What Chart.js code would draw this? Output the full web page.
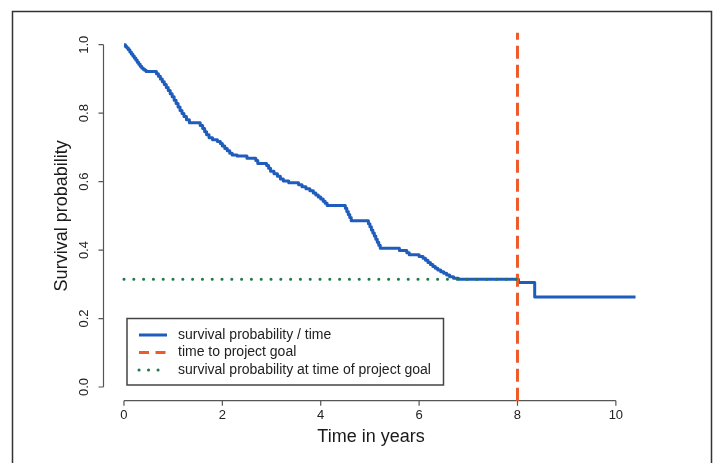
<!DOCTYPE html>
<html>
<head>
<meta charset="utf-8">
<script src="https://cdn.jsdelivr.net/npm/chart.js@4.4.1/dist/chart.umd.min.js"></script>
<style>
  html, body { margin: 0; background: #fff; }
  #wrap { width: 718px; height: 463px; }
</style>
</head>
<body>
<div id="wrap"><canvas id="survivalChart" width="718" height="463"></canvas></div>
<script>
// Kaplan-Meier style curve: event time -> survival after the drop
const kmTimes = [0, 0.03, 0.06, 0.09, 0.12, 0.15, 0.18, 0.21, 0.24, 0.27, 0.3, 0.33, 0.36, 0.39,
    0.42, 0.45, 0.66, 0.7, 0.74, 0.78, 0.82, 0.86, 0.9, 0.94, 0.98, 1.02, 1.06, 1.1, 1.14, 1.18,
    1.22, 1.27, 1.33, 1.55, 1.6, 1.64, 1.68, 1.73, 1.8, 1.9, 1.96, 2.0, 2.05, 2.1, 2.15, 2.2, 2.3,
    2.5, 2.68, 2.72, 2.9, 2.94, 2.98, 3.05, 3.12, 3.18, 3.24, 3.35, 3.55, 3.62, 3.7, 3.78, 3.85,
    3.9, 3.95, 4.0, 4.05, 4.09, 4.13, 4.5, 4.53, 4.56, 4.59, 4.62, 4.97, 5.0, 5.03, 5.06, 5.09,
    5.12, 5.15, 5.18, 5.21, 5.6, 5.75, 5.8, 6.0, 6.08, 6.13, 6.18, 6.23, 6.28, 6.33, 6.38, 6.44,
    6.5, 6.56, 6.62, 6.7, 6.8, 8.02, 8.35, 10.4];
const kmSurvival = [1.0, 0.995, 0.99, 0.985, 0.979, 0.973, 0.967, 0.961, 0.955, 0.949, 0.943,
    0.937, 0.932, 0.928, 0.925, 0.922, 0.915, 0.908, 0.9, 0.892, 0.884, 0.875, 0.866, 0.857, 0.848,
    0.838, 0.828, 0.818, 0.808, 0.799, 0.79, 0.781, 0.772, 0.764, 0.755, 0.746, 0.737, 0.728,
    0.722, 0.717, 0.711, 0.704, 0.697, 0.69, 0.683, 0.678, 0.675, 0.668, 0.662, 0.653, 0.647,
    0.639, 0.63, 0.623, 0.616, 0.608, 0.602, 0.597, 0.591, 0.585, 0.579, 0.573, 0.567, 0.561,
    0.555, 0.549, 0.543, 0.537, 0.53, 0.522, 0.513, 0.504, 0.495, 0.486, 0.477, 0.468, 0.459,
    0.45, 0.441, 0.432, 0.423, 0.414, 0.405, 0.399, 0.392, 0.386, 0.381, 0.376, 0.37, 0.364,
    0.358, 0.352, 0.347, 0.342, 0.337, 0.332, 0.327, 0.322, 0.318, 0.315, 0.305, 0.263, 0.263];

const goalTime = 8;
const goalSurvival = 0.315;
const xTicks = [0, 2, 4, 6, 8, 10];
const yTicks = [0, 0.2, 0.4, 0.6, 0.8, 1.0];
const legendLabels = ['survival probability / time', 'time to project goal', 'survival probability at time of project goal'];

const BLUE = '#1f5dbd';
const ORANGE = '#ef5a2a';
const GREEN = '#1f7a4e';
const FONT = '"Liberation Sans", Arial, sans-serif';

// R-style axes, frame and legend drawn through the chart's own scales
const rStylePlugin = {
    id: 'rStyle',
    beforeDatasetsDraw(chart) {
        const { ctx, scales: { x, y } } = chart;
        ctx.save();
        // outer figure frame (bottom edge falls outside the crop)
        ctx.strokeStyle = '#333';
        ctx.lineWidth = 1.5;
        ctx.beginPath();
        ctx.moveTo(12.5, 470);
        ctx.lineTo(12.5, 11.5);
        ctx.lineTo(711.5, 11.5);
        ctx.lineTo(711.5, 470);
        ctx.stroke();

        ctx.strokeStyle = '#555';
        ctx.lineWidth = 1.2;
        ctx.fillStyle = '#222';
        ctx.font = `13px ${FONT}`;

        // x axis
        const axisY = chart.chartArea.bottom;
        ctx.beginPath();
        ctx.moveTo(x.getPixelForValue(xTicks[0]), axisY);
        ctx.lineTo(x.getPixelForValue(xTicks[xTicks.length - 1]), axisY);
        xTicks.forEach((t) => {
            const px = x.getPixelForValue(t);
            ctx.moveTo(px, axisY);
            ctx.lineTo(px, axisY + 5);
        });
        ctx.stroke();
        ctx.textAlign = 'center';
        ctx.textBaseline = 'middle';
        xTicks.forEach((t) => ctx.fillText(String(t), x.getPixelForValue(t), axisY + 15));

        // y axis
        const axisX = chart.chartArea.left;
        ctx.beginPath();
        ctx.moveTo(axisX, y.getPixelForValue(yTicks[0]));
        ctx.lineTo(axisX, y.getPixelForValue(yTicks[yTicks.length - 1]));
        yTicks.forEach((t) => {
            const py = y.getPixelForValue(t);
            ctx.moveTo(axisX, py);
            ctx.lineTo(axisX - 5, py);
        });
        ctx.stroke();
        yTicks.forEach((t) => {
            ctx.save();
            ctx.translate(axisX - 19, y.getPixelForValue(t));
            ctx.rotate(-Math.PI / 2);
            ctx.fillText(t.toFixed(1), 0, 0);
            ctx.restore();
        });

        // axis titles
        ctx.fillStyle = '#1a1a1a';
        ctx.font = `18px ${FONT}`;
        ctx.fillText('Time in years', 371, 437);
        ctx.save();
        ctx.translate(62, (y.getPixelForValue(0) + y.getPixelForValue(1)) / 2);
        ctx.rotate(-Math.PI / 2);
        ctx.fillText('Survival probability', 0, 0);
        ctx.restore();
        ctx.restore();
    },
    afterDatasetsDraw(chart) {
        const { ctx } = chart;
        const box = { left: 127, top: 318.5, right: 443.5, bottom: 385 };
        ctx.save();
        ctx.fillStyle = '#fff';
        ctx.fillRect(box.left, box.top, box.right - box.left, box.bottom - box.top);
        ctx.strokeStyle = '#444';
        ctx.lineWidth = 1.5;
        ctx.strokeRect(box.left, box.top, box.right - box.left, box.bottom - box.top);

        const rows = [335, 352.5, 370];
        const styles = [
            { color: BLUE, dash: [], width: 3, cap: 'butt' },
            { color: ORANGE, dash: [10, 6.5], width: 3, cap: 'butt' },
            { color: GREEN, dash: [0.1, 9.4], width: 3, cap: 'round' },
        ];
        styles.forEach((s, i) => {
            ctx.beginPath();
            ctx.strokeStyle = s.color;
            ctx.lineWidth = s.width;
            ctx.lineCap = s.cap;
            ctx.setLineDash(s.dash);
            ctx.moveTo(139, rows[i]);
            ctx.lineTo(167, rows[i]);
            ctx.stroke();
        });
        ctx.setLineDash([]);
        ctx.fillStyle = '#222';
        ctx.font = `14px ${FONT}`;
        ctx.textAlign = 'left';
        ctx.textBaseline = 'middle';
        legendLabels.forEach((label, i) => ctx.fillText(label, 178, rows[i]));
        ctx.restore();
    },
};

new Chart(document.getElementById('survivalChart'), {
    type: 'line',
    data: {
        datasets: [
            {
                label: legendLabels[0],
                data: kmTimes.map((t, i) => ({ x: t, y: kmSurvival[i] })),
                borderColor: BLUE,
                borderWidth: 3,
                borderJoinStyle: 'round',
                stepped: true,
                pointRadius: 0,
                order: 3,
            },
            {
                label: legendLabels[1],
                data: [{ x: goalTime, y: -0.04 }, { x: goalTime, y: 1.035 }],
                borderColor: ORANGE,
                borderWidth: 3,
                borderDash: [13, 6],
                pointRadius: 0,
                clip: false,
                order: 2,
            },
            {
                label: legendLabels[2],
                data: [{ x: 0, y: goalSurvival }, { x: goalTime, y: goalSurvival }],
                borderColor: GREEN,
                borderWidth: 3,
                borderDash: [0.1, 9.7],
                borderCapStyle: 'round',
                pointRadius: 0,
                order: 1,
            },
        ],
    },
    options: {
        responsive: false,
        animation: false,
        devicePixelRatio: 1,
        layout: { padding: { left: 103.5, right: 62, top: 31, bottom: 62.3 } },
        scales: {
            x: { type: 'linear', min: -0.416, max: 10.816, display: false },
            y: { type: 'linear', min: -0.04, max: 1.04, display: false },
        },
        plugins: { legend: { display: false }, tooltip: { enabled: false } },
    },
    plugins: [rStylePlugin],
});
</script>
</body>
</html>
